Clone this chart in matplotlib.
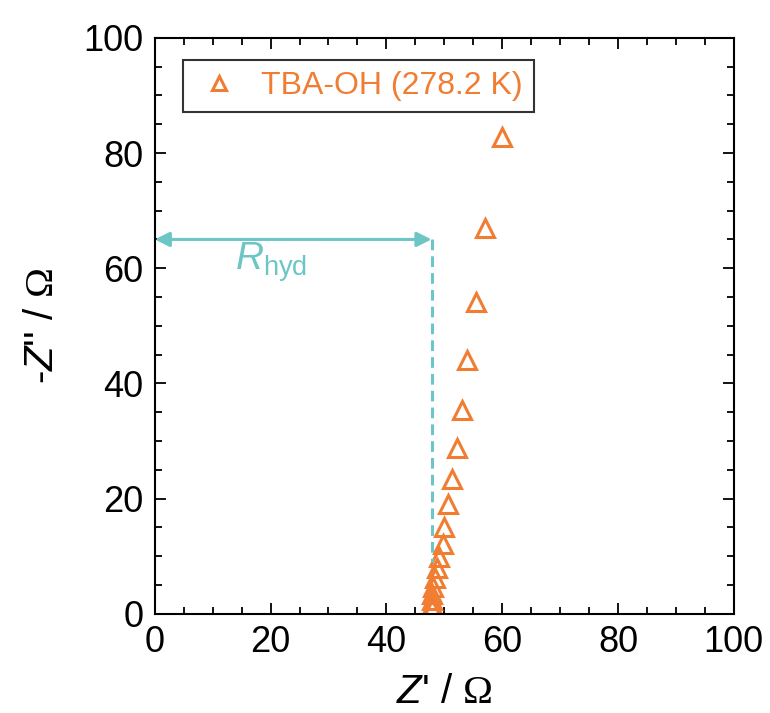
import matplotlib.pyplot as plt

plt.rcParams['font.family'] = ['Liberation Sans', 'DejaVu Sans']
plt.rcParams['mathtext.fontset'] = 'custom'
plt.rcParams['mathtext.it'] = 'Liberation Sans:italic'
plt.rcParams['mathtext.rm'] = 'Liberation Serif'
plt.rcParams['mathtext.sf'] = 'Liberation Sans'

# Nyquist data (Z' / Ohm, -Z'' / Ohm)
z_real = [60.0, 57.1, 55.5, 54.0, 53.1, 52.2, 51.4, 50.7, 50.0, 49.7,
          49.1, 48.8, 48.4, 48.1, 47.9, 47.9, 47.8, 47.8]
z_imag = [82.7, 66.9, 54.2, 44.0, 35.4, 28.8, 23.4, 19.0, 15.1, 12.1,
          9.9, 7.9, 6.2, 4.7, 3.5, 2.4, 1.6, 0.9]
label = "TBA-OH (278.2 K)"

r_hyd = 47.8
arrow_y = 65.0
dash_bottom = 9.0

orange = "#F07D32"
teal = "#6CC6C6"

fig = plt.figure(figsize=(7.7, 7.13), dpi=100)
ax = fig.add_axes([0.201, 0.139, 0.752, 0.808])

ax.plot(z_real, z_imag, linestyle='none', marker='^', ms=13, mew=2.2,
        mfc='none', mec=orange, label=label)

# R_hyd annotation
ax.annotate('', xy=(0, arrow_y), xytext=(r_hyd, arrow_y),
            arrowprops=dict(arrowstyle='<|-|>', color=teal, lw=2.2,
                            mutation_scale=22, shrinkA=0, shrinkB=0))
ax.plot([r_hyd, r_hyd], [arrow_y, dash_bottom], color=teal, lw=2.2,
        linestyle=(0, (3.5, 2)))
ax.text(20, 61, r'$R_{\mathsf{hyd}}$', color=teal, fontsize=28,
        ha='center', va='center')

ax.set_xlim(0, 100)
ax.set_ylim(0, 100)
ax.set_xticks(range(0, 101, 20))
ax.set_yticks(range(0, 101, 20))
ax.set_xticks(range(0, 101, 5), minor=True)
ax.set_yticks(range(0, 101, 5), minor=True)
ax.tick_params(which='both', direction='in', top=True, right=True,
               labelsize=26, width=1.3, pad=8)
ax.tick_params(which='major', length=8)
ax.tick_params(which='minor', length=5)
for s in ax.spines.values():
    s.set_linewidth(1.5)

ax.set_xlabel(r"$\mathit{Z}$' / $\Omega$", fontsize=29, labelpad=9)
ax.set_ylabel(r"-$\mathit{Z}$'' / $\Omega$", fontsize=29, labelpad=16)

leg = ax.legend(loc='upper left', bbox_to_anchor=(0.048, 0.962), fontsize=23,
                frameon=True, fancybox=False, edgecolor='black',
                handletextpad=0.5, borderpad=0.35, labelcolor=orange,
                markerscale=0.75, handlelength=1.6, borderaxespad=0)
leg.get_frame().set_linewidth(1.5)

plt.savefig("out.png", dpi=100)
